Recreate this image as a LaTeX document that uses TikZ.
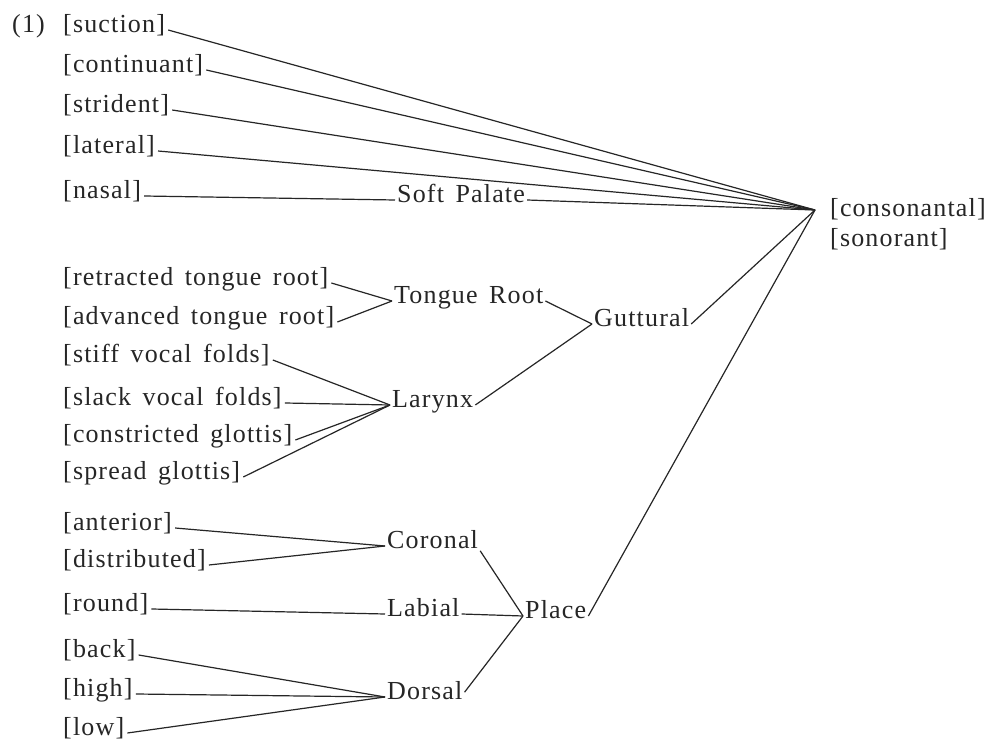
\documentclass[tikz,border=0pt]{standalone}
\usepackage{fontspec}
\setmainfont{Liberation Serif}[LetterSpace=4.5,WordSpace=1.5]
\definecolor{ink}{RGB}{38,38,38}
\begin{document}
\begin{tikzpicture}[x=1pt,y=-1pt,
  txt/.style={font=\fontsize{26}{30}\selectfont, text=ink, text height=0.7em, text depth=0.22em, inner ysep=0pt},
  lbl/.style={txt, anchor=west, inner xsep=3pt},
  mid/.style={txt, anchor=west, inner xsep=2pt},
  ln/.style={draw=ink, line width=1.2pt}]
\useasboundingbox[fill=white] (0,0) rectangle (989,743);

\node[lbl, inner xsep=0pt] (num) at (12,30) {(1)};
% left feature labels
\node[lbl] (suction)     at (60,30)  {[suction]};
\node[lbl] (continuant)  at (60,70)  {[continuant]};
\node[lbl] (strident)    at (60,110) {[strident]};
\node[lbl] (lateral)     at (60,151) {[lateral]};
\node[lbl] (nasal)       at (60,196) {[nasal]};
\node[lbl] (retracted)   at (60,283) {[retracted tongue root]};
\node[lbl] (advanced)    at (60,322) {[advanced tongue root]};
\node[lbl] (stiff)       at (60,360) {[stiff vocal folds]};
\node[lbl] (slack)       at (60,403) {[slack vocal folds]};
\node[lbl] (constricted) at (60,440) {[constricted glottis]};
\node[lbl] (spread)      at (60,477) {[spread glottis]};
\node[lbl] (anterior)    at (60,528) {[anterior]};
\node[lbl] (distributed) at (60,565) {[distributed]};
\node[lbl] (round)       at (60,609) {[round]};
\node[lbl] (back)        at (60,655) {[back]};
\node[lbl] (high)        at (60,694) {[high]};
\node[lbl] (low)         at (60,733) {[low]};

% intermediate nodes
\node[mid] (softpalate) at (395,200) {Soft Palate};
\node[mid] (tongueroot) at (392,301) {Tongue Root};
\node[mid] (guttural)   at (592,324) {Guttural};
\node[mid] (larynx)     at (390,405) {Larynx};
\node[mid] (coronal)    at (385,546) {Coronal};
\node[mid] (labial)     at (385,614) {Labial};
\node[mid] (dorsal)     at (385,697) {Dorsal};
\node[mid] (place)      at (523,616) {Place};

\coordinate (conv) at (815,210);
\node[lbl, inner xsep=0pt] (consonantal) at (830,214) {[consonantal]};
\node[lbl, inner xsep=0pt] (sonorant)    at (830,244) {[sonorant]};

% connectors
\foreach \n in {suction,continuant,strident,lateral,softpalate,guttural,place}
  \draw[ln] (\n.east) -- (conv);
\draw[ln] (nasal.east) -- (softpalate.west);
\foreach \n in {retracted,advanced}
  \draw[ln] (\n.east) -- (tongueroot.west);
\draw[ln] (tongueroot.east) -- (guttural.west);
\draw[ln] (larynx.east) -- (guttural.west);
\foreach \n in {stiff,slack,constricted,spread}
  \draw[ln] (\n.east) -- (larynx.west);
\foreach \n in {anterior,distributed}
  \draw[ln] (\n.east) -- (coronal.west);
\draw[ln] (round.east) -- (labial.west);
\foreach \n in {back,high,low}
  \draw[ln] (\n.east) -- (dorsal.west);
\draw[ln] (coronal.south east) -- (place.west);
\draw[ln] (labial.east) -- (place.west);
\draw[ln] (dorsal.north east) -- (place.west);
\end{tikzpicture}
\end{document}
